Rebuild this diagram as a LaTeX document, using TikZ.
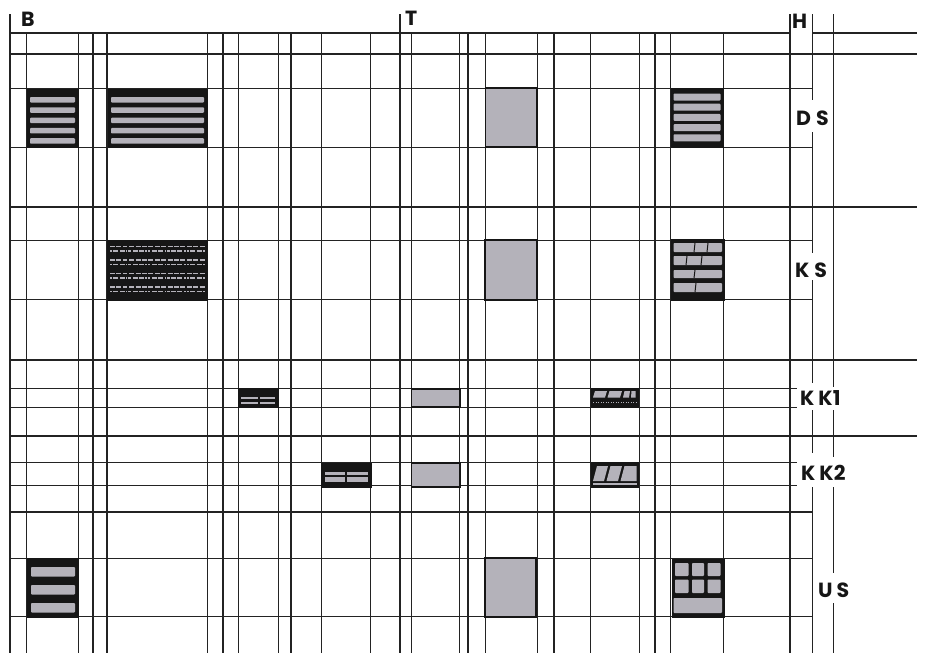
\documentclass[tikz,border=0pt]{standalone}
\usepackage{fontspec}
\newfontfamily\labfont{Poppins}
\definecolor{ink}{RGB}{35,35,35}
\definecolor{winblack}{RGB}{22,22,22}
\definecolor{glass}{RGB}{180,178,186}
\begin{document}
\begin{tikzpicture}[x=1pt,y=-1pt,
  thinl/.style={draw=ink,line width=0.55pt},
  thickl/.style={draw=ink,line width=1.05pt},
  medl/.style={draw=ink,line width=0.8pt},
  lab/.style={inner sep=0pt,anchor=base west,text=winblack,font=\labfont\bfseries\fontsize{20.5}{20.5}\selectfont},
  blackwin/.style={fill=winblack,draw=winblack,line width=0.8pt},
  greywin/.style={fill=glass,draw=winblack,line width=1.1pt},
  bar/.style={fill=glass,rounded corners=0.9pt},
  pane/.style={fill=glass},
  split/.style={draw=winblack,line width=1pt},
  dashrow/.style={draw=glass,line width=1.8pt,dash pattern=on 5pt off 1.4pt}
]
\useasboundingbox (0,0) rectangle (928,653);
\fill[white] (0,0) rectangle (928,653);

% ---------- vertical grid lines ----------
\foreach \x in {26,78,207,238,278,321,370,411,459,485,537,590,639,670,723}
  \draw[thinl] (\x,33) -- (\x,653);
\foreach \x in {93,107,223,291,468,554,655}
  \draw[thickl] (\x,33) -- (\x,653);
\foreach \x in {10,400,790}
  \draw[thickl] (\x,14) -- (\x,653);
% line at 812 with gaps for the labels
\draw[medl] (812,14) -- (812,100);
\draw[medl] (812,132) -- (812,253);
\draw[medl] (812,280) -- (812,383);
\draw[medl] (812,410) -- (812,453);
\draw[medl] (812,487) -- (812,653);
% line at 833 with gaps
\draw[medl] (833,14) -- (833,387);
\draw[medl] (833,410) -- (833,457);
\draw[medl] (833,487) -- (833,573);
\draw[medl] (833,603) -- (833,653);

% ---------- horizontal grid lines ----------
\draw[thickl] (10,33) -- (790,33);
\draw[thickl] (812,33) -- (917,33);
\foreach \y in {54,207,360,436}
  \draw[thickl] (10,\y) -- (917,\y);
\draw[thickl] (10,512) -- (813,512);
\foreach \y in {88,147,240,299}
  \draw[thinl] (10,\y) -- (812,\y);
\foreach \y in {388,407,462,485}
  \draw[thinl] (10,\y) -- (797,\y);
\foreach \y in {558,616}
  \draw[thinl] (10,\y) -- (813,\y);

% ---------- labels ----------
\node[lab] (lB) at (21,26.5) {B};
\node[lab] (lT) at (405,25) {T};
\node[lab] (lH) at (792,28.5) {H};
\node[lab] (lDS) at (796,125.5) {D\hspace{5pt}S};
\node[lab] (lKS) at (795,277.5) {K\hspace{5pt}S};
\node[lab] (lKK1) at (800,405.5) {K\hspace{4pt}K1};
\node[lab] (lKK2) at (801,480.5) {K\hspace{4pt}K2};
\node[lab] (lUS) at (818,597.5) {U\hspace{4pt}S};

% ---------- row DS ----------
\draw[blackwin] (27,89) rectangle (78,147);
\foreach \i in {0,...,4}
  \fill[bar] (30,{97+10.3*\i}) rectangle (75,{102.5+10.3*\i});
\draw[blackwin] (108,89) rectangle (207,147);
\foreach \i in {0,...,4}
  \fill[bar] (111,{97+10.3*\i}) rectangle (204,{102.5+10.3*\i});
\draw[greywin] (485.5,88) rectangle (537,147);
\draw[blackwin] (671,88) rectangle (723,147);
\foreach \i in {0,...,4}
  \fill[bar] (673.5,{93.5+10.2*\i}) rectangle (720.5,{100.5+10.2*\i});

% ---------- row KS ----------
\draw[blackwin] (107.5,240.5) rectangle (207,300);
\foreach \i in {0,...,3} {
  \draw[dashrow] (110,{246.5+13.5*\i}) -- (205,{246.5+13.5*\i});
  \draw[dashrow,dash phase=3pt] (110,{251+13.5*\i}) -- (205,{251+13.5*\i});
}
\foreach \x in {127,147,166,186}
  \draw[split] (\x,243) -- (\x,297);
\draw[greywin] (485,240) rectangle (537,300);
\draw[blackwin] (671.5,239.5) rectangle (724,300);
\foreach \a/\b in {243/252,256/265,270/278,283/292}
  \fill[bar] (673.5,\a) rectangle (722,\b);
\draw[split] (695,243) -- (694,252);
\draw[split] (708,243) -- (707,252);
\draw[split] (687,256) -- (686,265);
\draw[split] (702,256) -- (701,265);
\draw[split] (695,270) -- (694,278);
\draw[split] (696,283) -- (695,292);

% ---------- row KK1 ----------
\draw[blackwin] (238,388.5) rectangle (278,407.5);
\fill[pane] (241,396.5) rectangle (258,399.3);
\fill[pane] (260,396.5) rectangle (275,399.3);
\fill[pane] (241,401.5) rectangle (258,404);
\fill[pane] (260,401.5) rectangle (275,404);
\draw[greywin] (411.5,389) rectangle (460,407);
\draw[blackwin] (591,388) rectangle (638.5,407);
\fill[pane] (593,397.5) -- (595,391) -- (607,391) -- (605,397.5) -- cycle;
\fill[pane] (607.5,397.5) -- (609.5,391) -- (622,391) -- (620,397.5) -- cycle;
\fill[pane] (623,397.5) -- (624.5,391) -- (630,391) -- (629,397.5) -- cycle;
\fill[pane] (631,397.5) -- (631.5,391) -- (635.5,391) -- (635.5,397.5) -- cycle;
\draw[glass,line width=0.5pt,dash pattern=on 1pt off 1.5pt] (593,402) -- (636,402);

% ---------- row KK2 ----------
\draw[blackwin] (321.5,463) rectangle (371,487);
\fill[pane] (325,471.7) rectangle (345,475);
\fill[pane] (347,471.7) rectangle (368,475);
\fill[pane] (325,476.7) rectangle (345,481.7);
\fill[pane] (347,476.7) rectangle (368,481.7);
\draw[greywin] (411.5,463) rectangle (460,487);
\draw[blackwin] (591.5,462.5) rectangle (638.5,487);
\fill[pane] (593,481) -- (597,466) -- (608,466) -- (604,481) -- cycle;
\fill[pane] (606.5,481) -- (610.5,466) -- (622,466) -- (618,481) -- cycle;
\fill[pane] (620.5,481) -- (624.5,466) -- (636.5,466) -- (636.5,481) -- cycle;
\fill[pane] (593,482.6) rectangle (636.5,484.6);

% ---------- row US ----------
\draw[blackwin] (27,558) rectangle (78,617);
\foreach \a/\b in {567/576.5,585/594.5,603/612.5}
  \fill[bar] (31,\a) rectangle (75,\b);
\draw[greywin] (485,558) rectangle (536,617);
\draw[blackwin] (672,559) rectangle (724,617);
\foreach \a/\b in {563/576,579.5/593}
  \foreach \c/\d in {675/688.5,692/704,707.5/720.5}
    \fill[bar] (\c,\a) rectangle (\d,\b);
\fill[bar] (673.5,598) rectangle (722,613);
\end{tikzpicture}
\end{document}
